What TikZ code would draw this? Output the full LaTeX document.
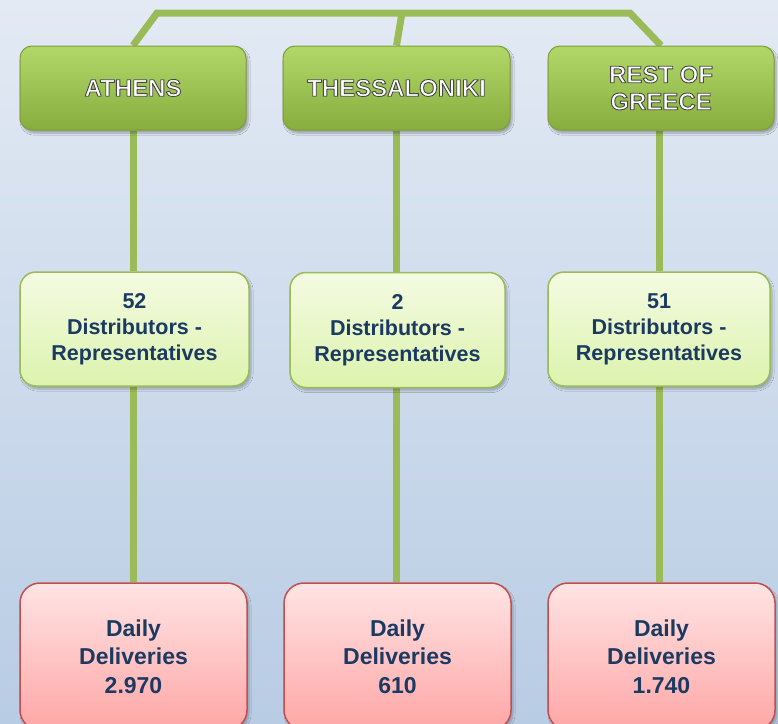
\documentclass[tikz,border=0pt]{standalone}
\usepackage{fontspec}
\setmainfont{Liberation Sans}
\usetikzlibrary{backgrounds,shadows.blur}
\definecolor{bgtop}{HTML}{E3EAF4}
\definecolor{bgbot}{HTML}{B8CCE4}
\definecolor{gtop}{HTML}{B2D86A}
\definecolor{gbot}{HTML}{87AD3E}
\definecolor{gline}{HTML}{7E9F38}
\definecolor{conncol}{HTML}{9BBB59}
\definecolor{ltop}{HTML}{F4FBE2}
\definecolor{lbot}{HTML}{DDF3AE}
\definecolor{lline}{HTML}{9BBB59}
\definecolor{ptop}{HTML}{FFE4E4}
\definecolor{pbot}{HTML}{FFA6A6}
\definecolor{pline}{HTML}{C0504D}
\definecolor{navy}{HTML}{1B3A62}
\newcommand{\outlinetext}[1]{\special{pdf:literal direct 2 Tr 0.9 w 0.28 0.28 0.28 RG 1 j}#1\special{pdf:literal direct 0 Tr}}
\tikzset{
  regionbox/.style={draw=gline, line width=1pt, rounded corners=12pt,
    top color=gtop, bottom color=gbot, minimum width=226pt, minimum height=84pt,
    inner sep=0pt, align=center, text=white,
    font=\fontsize{24}{27}\selectfont\bfseries,
    blur shadow={shadow xshift=2pt, shadow yshift=-3pt, shadow opacity=30, shadow blur steps=6}},
  distbox/.style={draw=lline, line width=1.5pt, rounded corners=16pt,
    top color=ltop, bottom color=lbot, minimum height=114pt,
    inner sep=0pt, align=center, text=navy,
    font=\fontsize{21.5}{26}\selectfont\bfseries,
    blur shadow={shadow xshift=2pt, shadow yshift=-3pt, shadow opacity=25, shadow blur steps=6}},
  delbox/.style={draw=pline, line width=1.5pt, rounded corners=20pt,
    top color=ptop, bottom color=pbot, minimum width=227pt, minimum height=147pt,
    inner sep=0pt, align=center, text=navy,
    font=\fontsize{23}{28.5}\selectfont\bfseries,
    blur shadow={shadow xshift=2pt, shadow yshift=-3pt, shadow opacity=25, shadow blur steps=6}},
  conn/.style={draw=conncol, line width=7pt}
}
\begin{document}
\begin{tikzpicture}[x=1pt,y=-1pt]
\useasboundingbox (0,0) rectangle (778,723);
% top row
\node[regionbox] (athT) at (133,88) {\outlinetext{ATHENS}};
\node[regionbox, minimum width=227pt] (thessT) at (396.5,88) {\outlinetext{THESSALONIKI}};
\node[regionbox] (restT) at (661,88) {\outlinetext{REST OF}\\\outlinetext{GREECE}};
% middle row
\node[distbox, minimum width=229pt] (athM) at (134.5,329) {52\\Distributors -\\Representatives};
\node[distbox, minimum width=215pt, minimum height=115pt] (thessM) at (397.5,330) {2\\Distributors -\\Representatives};
\node[distbox, minimum width=222pt] (restM) at (659,329) {51\\Distributors -\\Representatives};
% bottom row
\node[delbox] (athB) at (133.5,656.5) {Daily\\Deliveries\\2.970};
\node[delbox] (thessB) at (397.5,656.5) {Daily\\Deliveries\\610};
\node[delbox] (restB) at (661.5,656.5) {Daily\\Deliveries\\1.740};
\coordinate (busL) at (157,13);
\coordinate (busM) at (402,13);
\coordinate (busR) at (630,13);
\begin{scope}[on background layer]
  \shade[top color=bgtop, bottom color=bgbot] (0,0) rectangle (778,723);
  \draw[conn] (athT.north) -- (busL) -- (busR) -- (restT.north);
  \draw[conn] (thessT.north) -- (busM);
  \draw[conn] (athT.south) -- (athM.north -| athT.south);
  \draw[conn] (athM.south -| athT.south) -- (athB.north -| athT.south);
  \draw[conn] (thessT.south) -- (thessM.north -| thessT.south);
  \draw[conn] (thessM.south -| thessT.south) -- (thessB.north -| thessT.south);
  \draw[conn] (restT.south -| restM.north) -- (restM.north);
  \draw[conn] (restM.south) -- (restB.north -| restM.south);
\end{scope}
\end{tikzpicture}
\end{document}
